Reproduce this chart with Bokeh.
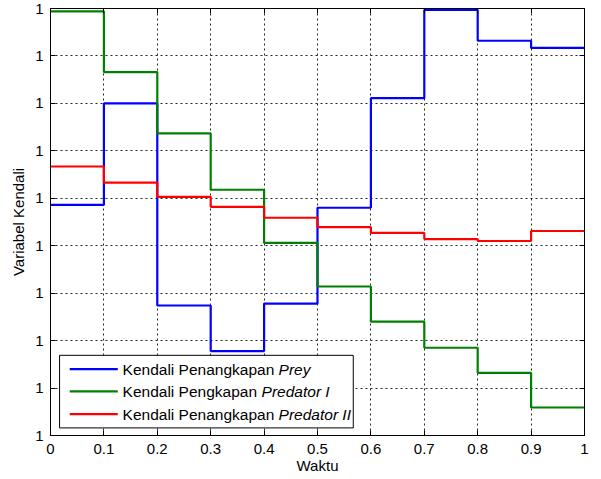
from bokeh.plotting import figure
from bokeh.models import FixedTicker, LinearAxis, Range1d
from bokeh.core.properties import value
from bokeh.embed import file_html
from bokeh.resources import INLINE

# ---- data (y in tick units; every tick is labelled "1" as in the original) ----
waktu = [0.0, 0.1, 0.2, 0.3, 0.4, 0.5, 0.6, 0.7, 0.8, 0.9, 1.0]
prey = [4.86, 7.00, 2.74, 1.78, 2.78, 4.80, 7.11, 8.97, 8.32, 8.17]
predator1 = [8.94, 7.66, 6.37, 5.18, 4.06, 3.14, 2.40, 1.85, 1.32, 0.59]
predator2 = [5.67, 5.33, 5.03, 4.82, 4.59, 4.39, 4.27, 4.14, 4.10, 4.31]

x_ticks = [0.0, 0.1, 0.2, 0.3, 0.4, 0.5, 0.6, 0.7, 0.8, 0.9, 1.0]
x_tick_labels = ["0", "0.1", "0.2", "0.3", "0.4", "0.5", "0.6", "0.7", "0.8", "0.9", "1"]
y_ticks = [0, 1, 2, 3, 4, 5, 6, 7, 8, 9]
y_tick_labels = ["1", "1", "1", "1", "1", "1", "1", "1", "1", "1"]

legend_normal = ["Kendali Penangkapan ", "Kendali Pengkapan ", "Kendali Penangkapan "]
legend_italic = ["Prey", "Predator I", "Predator II"]
colors = ["#0000FF", "#008000", "#FF0000"]
series = [prey, predator1, predator2]

FONT = "Liberation Sans"
FS = "15px"
LFS = "15.5px"

p = figure(width=593, height=476, x_range=Range1d(0, 1), y_range=Range1d(0, 9),
           output_backend="svg", toolbar_location=None,
           min_border_left=50, min_border_right=9, min_border_top=8, min_border_bottom=37)
p.background_fill_color = "white"
p.border_fill_color = "white"
p.outline_line_color = "black"
p.outline_line_alpha = 1
p.outline_line_width = 1

p.xaxis.ticker = FixedTicker(ticks=x_ticks)
p.xaxis.major_label_overrides = {t: l for t, l in zip(x_ticks, x_tick_labels)}
p.yaxis.ticker = FixedTicker(ticks=y_ticks)
p.yaxis.major_label_overrides = {t: l for t, l in zip(y_ticks, y_tick_labels)}
p.xaxis.axis_label = "Waktu"
p.yaxis.axis_label = "Variabel Kendali"
for ax in (p.xaxis, p.yaxis):
    ax.axis_label_text_font = FONT
    ax.axis_label_text_font_size = FS
    ax.axis_label_text_font_style = "normal"
    ax.axis_label_text_color = "black"
    ax.major_label_text_font = FONT
    ax.major_label_text_font_size = FS
    ax.major_label_text_color = "black"
    ax.major_tick_in = 5
    ax.major_tick_out = 0
    ax.minor_tick_line_color = None
    ax.axis_line_color = "black"
    ax.major_tick_line_color = "black"
p.xaxis.major_label_standoff = 8
p.xaxis.axis_label_standoff = 0
p.yaxis.major_label_standoff = 7
p.yaxis.axis_label_standoff = 5

ax_r = LinearAxis(ticker=FixedTicker(ticks=y_ticks),
                  major_label_overrides={t: "" for t in y_ticks},
                  major_label_standoff=0, major_tick_in=5, major_tick_out=0,
                  minor_tick_line_color=None, axis_line_color="black")
ax_t = LinearAxis(ticker=FixedTicker(ticks=x_ticks),
                  major_label_overrides={t: "" for t in x_ticks},
                  major_label_standoff=0, major_tick_in=5, major_tick_out=0,
                  minor_tick_line_color=None, axis_line_color="black")
p.add_layout(ax_r, "right")
p.add_layout(ax_t, "above")

p.grid.grid_line_color = "black"
p.grid.grid_line_dash = "2 3"
p.grid.grid_line_alpha = 0.85
p.grid.grid_line_width = 1

for vals, c in zip(series, colors):
    p.step(x=waktu, y=vals + [vals[-1]], mode="after", line_color=c, line_width=2.2)

# ---- legend (drawn as glyphs so that part of each label can be italic) ----
lg_left, lg_right, lg_top, lg_bottom = 0.017, 0.567, 1.69, 0.16
lg_rows = [1.40, 0.93, 0.45]
p.quad(left=[lg_left], right=[lg_right], top=[lg_top], bottom=[lg_bottom],
       fill_color="white", line_color="black", line_width=1)
p.segment(x0=[0.036] * 3, x1=[0.126] * 3, y0=lg_rows, y1=lg_rows,
          line_color=colors, line_width=2.2)
p.text(x=[0.135] * 3, y=lg_rows, text=legend_normal, text_font=value(FONT),
       text_font_size=value(LFS), text_baseline="middle", text_align="left", text_color="black")
italic_offsets = [156, 139, 156]
p.text(x=[0.135] * 3, y=lg_rows, text=legend_italic, x_offset=italic_offsets,
       text_font=value(FONT), text_font_size=value(LFS), text_font_style="italic",
       text_baseline="middle", text_align="left", text_color="black")

open("out.html", "w").write(file_html(p, INLINE))
